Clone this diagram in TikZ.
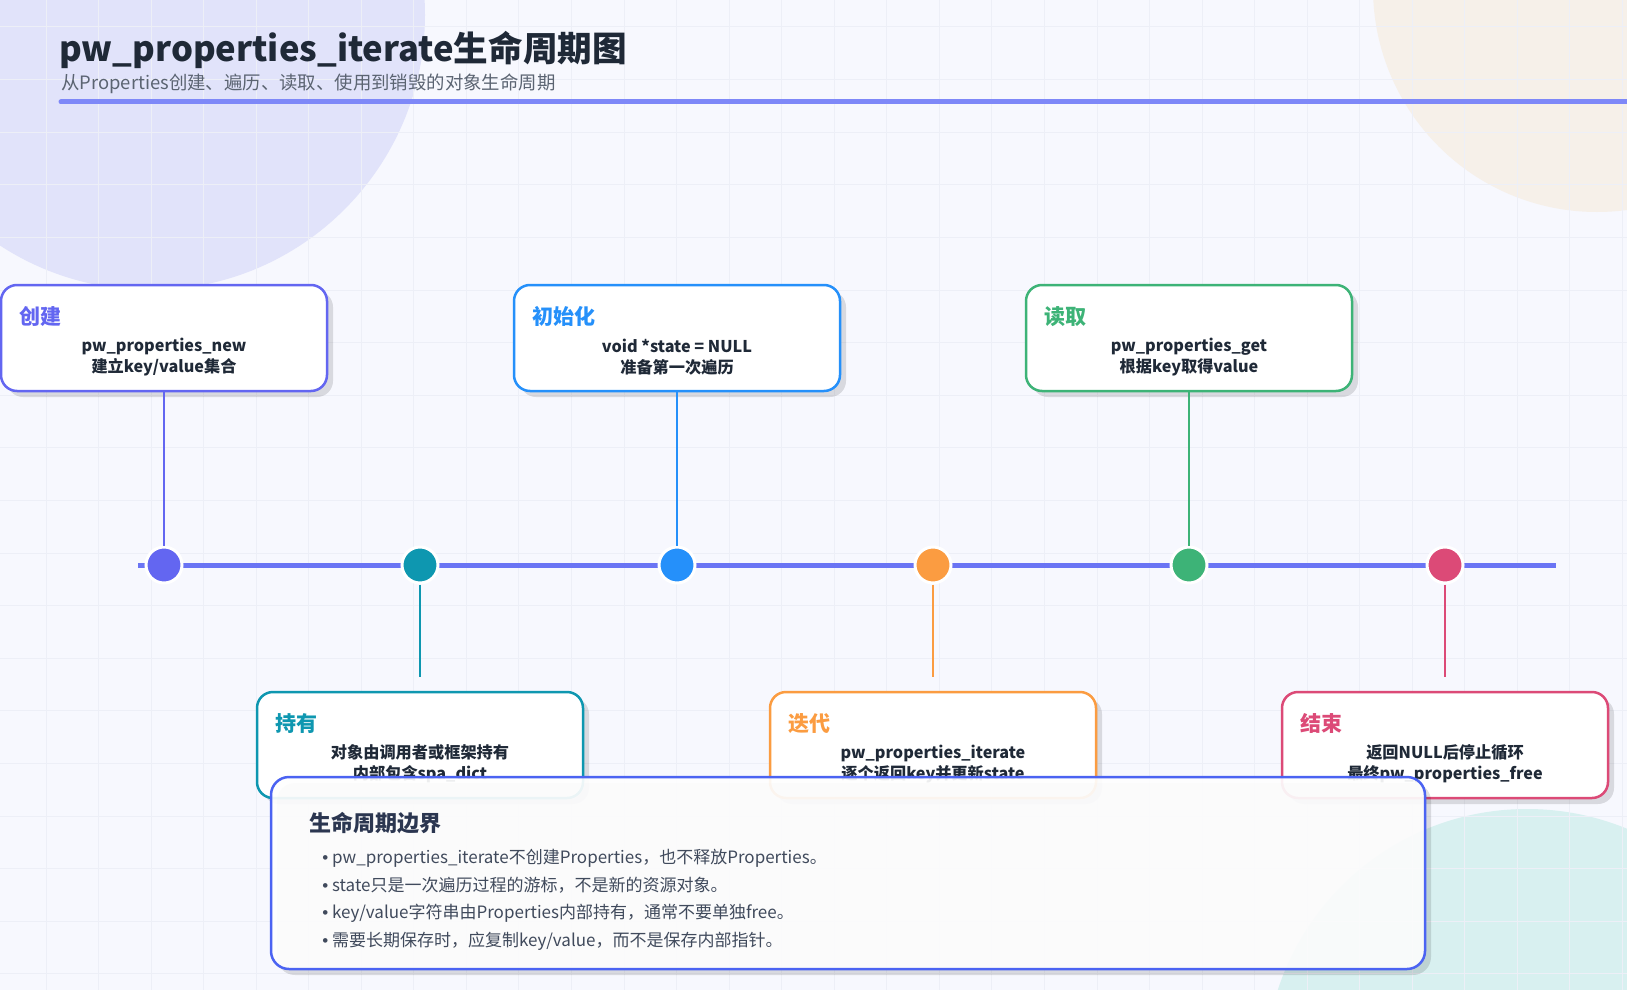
\documentclass[tikz,border=0pt]{standalone}
\usepackage{fontspec}
\setmainfont{Noto Sans CJK SC}
\newfontfamily\dotfont{Liberation Sans}
\usetikzlibrary{shadows}

\definecolor{paper}{HTML}{F7F8FE}
\definecolor{gridc}{HTML}{EDEFF7}
\definecolor{blobA}{HTML}{E1E3FA}
\definecolor{blobB}{HTML}{F6F0E9}
\definecolor{blobC}{HTML}{D8F0F0}
\definecolor{ink}{HTML}{1F2937}
\definecolor{subink}{HTML}{5B6472}
\definecolor{sumink}{HTML}{2B3650}
\definecolor{bulletink}{HTML}{404A5C}
\definecolor{rule}{HTML}{7E88F8}
\definecolor{axis}{HTML}{6A74F4}
\definecolor{cCreate}{HTML}{6366F1}
\definecolor{cHold}{HTML}{0E97B0}
\definecolor{cInit}{HTML}{2590FA}
\definecolor{cIter}{HTML}{FB9C41}
\definecolor{cRead}{HTML}{3DB377}
\definecolor{cEnd}{HTML}{DC4A77}
\definecolor{cSum}{HTML}{4B63F2}

\begin{document}
\begin{tikzpicture}[x=0.5pt, y=-0.5pt,
    card/.style={draw=#1, line width=1.25pt, fill=white, rounded corners=8pt,
        minimum width=163pt, minimum height=53pt, inner sep=0pt,
        drop shadow={shadow xshift=3pt, shadow yshift=-3pt, fill=black, opacity=0.12}},
    cardtitle/.style={text=#1, font=\bfseries\fontsize{10.5}{12}\selectfont, anchor=west, inner sep=0pt},
    cardtext/.style={text=ink, font=\bfseries\fontsize{8.1}{10.4}\selectfont, align=center, inner sep=0pt},
    stage/.style={circle, fill=#1, draw=white, line width=1.5pt, minimum size=18pt, inner sep=0pt},
    link/.style={draw=#1, line width=1.25pt},
    bullet/.style={text=bulletink, font=\fontsize{8.5}{10}\selectfont, anchor=west, inner sep=0pt},
    gridline/.style={draw=gridc, line width=0.5pt},
]
    \useasboundingbox (0,0) rectangle (1627,990);
    \clip (0,0) rectangle (1627,990);
    % background and blobs
    \fill[paper] (0,0) rectangle (1627,990);
    \fill[blobA] (150,15) circle (275);
    \fill[blobB] (1597,-12) circle (224);
    \fill[blobC] (1527,1071) circle (262);
    % grid
    \foreach \gx in {0,...,30} \draw[gridline] ({46+52.55*\gx},0) -- ++(0,990);
    \foreach \gy in {0,...,18} \draw[gridline] (0,{27+52.6*\gy}) -- ++(1627,0);

    % title
    \node[anchor=west, inner sep=0pt, text=ink, font=\bfseries\fontsize{17.3}{20}\selectfont] (title) at (59,50) {pw\_properties\_iterate生命周期图};
    \node[anchor=west, inner sep=0pt, text=subink, font=\fontsize{9.2}{11}\selectfont] (subtitle) at (61,84) {从Properties创建、遍历、读取、使用到销毁的对象生命周期};
    \draw[rule, line width=2.5pt, line cap=round] (61,102) -- (1660,102);

    % timeline
    \coordinate (tlstart) at (138,565);
    \coordinate (tlend) at (1556,565);
    \draw[axis, line width=2.5pt] (tlstart) -- (tlend);

    % stage dots
    \node[stage=cCreate] (dcreate) at (164,565) {};
    \node[stage=cHold]   (dhold)   at (420,565) {};
    \node[stage=cInit]   (dinit)   at (677,565) {};
    \node[stage=cIter]   (diter)   at (933,565) {};
    \node[stage=cRead]   (dread)   at (1189,565) {};
    \node[stage=cEnd]    (dend)    at (1445,565) {};

    % upper cards
    \node[card=cCreate] (create) at (164,338) {};
    \node[card=cInit]   (init)   at (677,338) {};
    \node[card=cRead]   (read)   at (1189,338) {};
    \node[cardtitle=cCreate] (create-title) at ([xshift=9.5pt, yshift=-16.5pt]create.north west) {创建};
    \node[cardtitle=cInit]   (init-title)   at ([xshift=9.5pt, yshift=-16.5pt]init.north west) {初始化};
    \node[cardtitle=cRead]   (read-title)   at ([xshift=9.5pt, yshift=-16.5pt]read.north west) {读取};
    \node[cardtext] (create-text) at ([yshift=-9.5pt]create.center) {pw\_properties\_new\\建立key/value集合};
    \node[cardtext] (init-text)   at ([yshift=-9.5pt]init.center) {void *state = NULL\\准备第一次遍历};
    \node[cardtext] (read-text)   at ([yshift=-9.5pt]read.center) {pw\_properties\_get\\根据key取得value};
    \draw[link=cCreate] (create) -- (dcreate);
    \draw[link=cInit]   (init)   -- (dinit);
    \draw[link=cRead]   (read)   -- (dread);

    % lower cards
    \node[card=cHold] (hold)   at (420,745) {};
    \node[card=cIter] (iter)   at (933,745) {};
    \node[card=cEnd]  (finish) at (1445,745) {};
    \node[cardtitle=cHold] (hold-title)   at ([xshift=9.5pt, yshift=-16.5pt]hold.north west) {持有};
    \node[cardtitle=cIter] (iter-title)   at ([xshift=9.5pt, yshift=-16.5pt]iter.north west) {迭代};
    \node[cardtitle=cEnd]  (finish-title) at ([xshift=9.5pt, yshift=-16.5pt]finish.north west) {结束};
    \node[cardtext] (hold-text)   at ([yshift=-9.5pt]hold.center) {对象由调用者或框架持有\\内部包含spa\_dict};
    \node[cardtext] (iter-text)   at ([yshift=-9.5pt]iter.center) {pw\_properties\_iterate\\逐个返回key并更新state};
    \node[cardtext] (finish-text) at ([yshift=-9.5pt]finish.center) {返回NULL后停止循环\\最终pw\_properties\_free};
    \coordinate (hold-end)   at (420,677);
    \coordinate (iter-end)   at (933,677);
    \coordinate (finish-end) at (1445,677);
    \draw[link=cHold] (dhold) -- (hold-end);
    \draw[link=cIter] (diter) -- (iter-end);
    \draw[link=cEnd]  (dend)  -- (finish-end);

    % lifecycle boundary note
    \node[draw=cSum, line width=1.25pt, fill=white!99!gray, fill opacity=0.92, rounded corners=9pt,
        minimum width=577pt, minimum height=96pt, inner sep=0pt,
        drop shadow={shadow xshift=3pt, shadow yshift=-3pt, fill=black, opacity=0.12}] (bounds) at (848,873) {};
    \node[anchor=west, inner sep=0pt, text=sumink, font=\bfseries\fontsize{11}{13}\selectfont] (bounds-title) at (309,823) {生命周期边界};
    \node[bullet] (b1) at (322,858) {{\dotfont•} pw\_properties\_iterate不创建Properties，也不释放Properties。};
    \node[bullet] (b2) at (322,885) {{\dotfont•} state只是一次遍历过程的游标，不是新的资源对象。};
    \node[bullet] (b3) at (322,913) {{\dotfont•} key/value字符串由Properties内部持有，通常不要单独free。};
    \node[bullet] (b4) at (322,941) {{\dotfont•} 需要长期保存时，应复制key/value，而不是保存内部指针。};
\end{tikzpicture}
\end{document}
